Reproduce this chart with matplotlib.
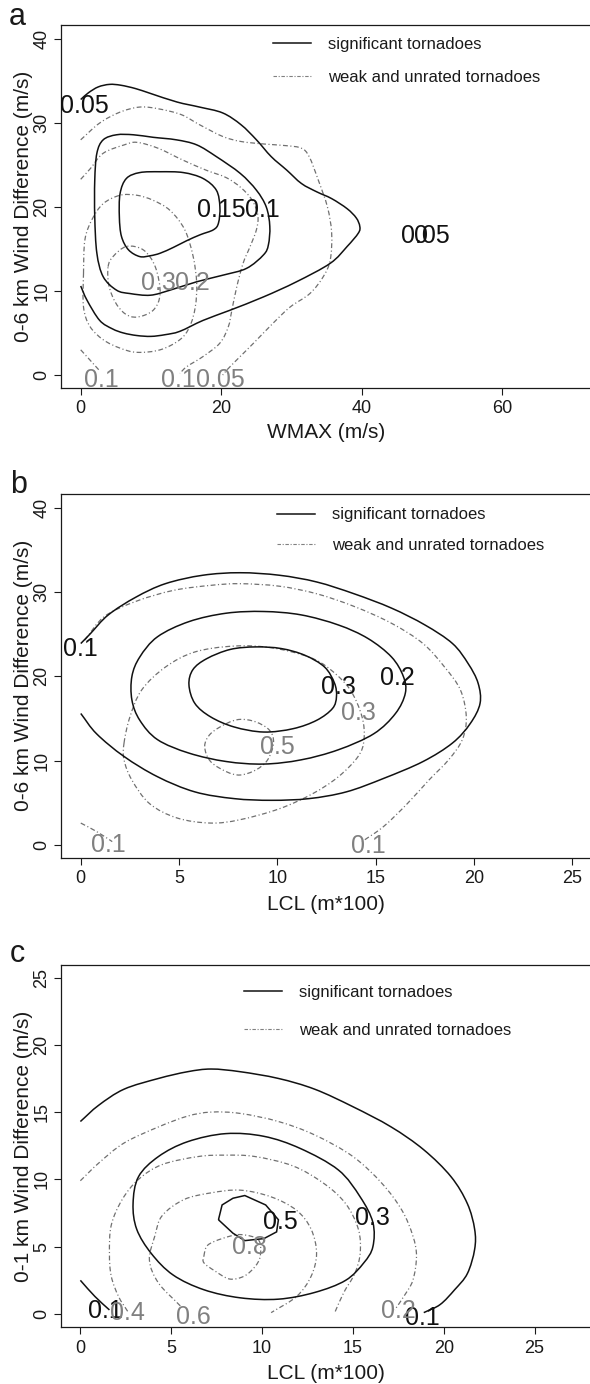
import numpy as np
import matplotlib
matplotlib.use('Agg')
import matplotlib.pyplot as plt
from matplotlib.path import Path
from matplotlib.patches import PathPatch
from matplotlib.lines import Line2D

plt.rcParams['font.family'] = ['Liberation Sans', 'DejaVu Sans']
plt.rcParams['lines.scale_dashes'] = False

SIG_COLOR = '#111111'
WEAK_COLOR = '#707070'
WEAK_LABEL_COLOR = '#808080'
DASHDOT = (0, (3.5, 1.8, 0.8, 1.8))

LEGEND_LABELS = ['significant tornadoes', 'weak and unrated tornadoes']

# ---- panel a: WMAX vs 0-6 km wind difference (contour paths)
a_sig_005 = [(0.0, 10.6), (0.9, 8.9), (2.7, 6.5), (4.5, 5.5), (6.1, 5.0), (8.0, 4.7),
             (10.0, 4.6), (12.0, 4.8), (14.1, 5.2), (17.4, 6.5), (21.2, 7.7), (26.0, 9.3),
             (30.7, 11.1), (35.5, 13.3), (37.9, 15.3), (39.5, 16.9), (39.7, 17.7),
             (39.2, 18.7), (37.9, 19.8), (35.7, 21.0), (33.6, 21.8), (31.4, 22.8),
             (29.3, 24.4), (27.1, 26.0), (25.0, 28.0), (22.8, 29.8), (20.2, 31.2),
             (16.9, 31.9), (13.7, 32.5), (10.0, 33.5), (7.8, 34.1), (5.7, 34.5),
             (4.1, 34.6), (2.5, 34.3), (1.1, 33.6), (0.0, 32.8)]
a_sig_010 = [(2.3, 26.4), (3.2, 28.0), (5.1, 28.6), (7.5, 28.6), (10.3, 28.3), (13.6, 28.0),
             (16.5, 27.4), (19.3, 26.0), (22.7, 24.0), (25.0, 22.0), (26.4, 20.0),
             (26.9, 17.7), (26.7, 15.5), (26.0, 14.3), (23.6, 12.7), (20.3, 11.9),
             (16.5, 11.1), (12.7, 10.1), (9.9, 9.5), (7.0, 9.7), (5.1, 10.1), (3.2, 11.7),
             (2.3, 14.5), (2.0, 18.8), (2.0, 23.2)]
a_sig_015 = [(5.6, 21.6), (6.5, 23.4), (8.4, 24.1), (11.3, 24.2), (14.6, 24.1), (17.4, 23.4),
             (19.3, 22.0), (19.8, 20.0), (19.6, 18.1), (18.9, 17.3), (17.0, 16.7),
             (15.1, 16.0), (13.2, 15.2), (11.3, 14.5), (9.9, 14.2), (8.4, 14.1),
             (6.8, 14.9), (5.8, 16.5), (5.5, 18.8)]
a_weak_005 = [(0.0, 28.0), (2.7, 30.0), (5.6, 31.3), (8.4, 31.9), (11.0, 31.7), (14.3, 31.0),
              (16.9, 29.8), (20.2, 28.4), (22.8, 27.8), (26.1, 27.5), (29.3, 27.3),
              (31.4, 27.0), (32.5, 26.0), (33.8, 23.2), (35.1, 20.0), (35.7, 16.9),
              (35.5, 13.7), (34.5, 11.7), (32.6, 9.7), (29.8, 8.1), (27.4, 6.2),
              (24.6, 3.8), (22.2, 1.8), (20.8, 0.6), (20.2, 0.0)]
a_weak_010 = [(0.0, 23.3), (1.4, 24.6), (3.2, 26.4), (6.2, 27.4), (8.0, 27.7), (11.0, 27.0),
              (14.5, 25.6), (17.8, 24.4), (20.7, 23.5), (22.8, 22.3), (24.4, 20.8),
              (25.2, 19.0), (25.0, 17.3), (24.1, 15.3), (23.1, 13.3), (22.2, 10.5),
              (21.5, 7.7), (21.0, 5.75), (19.8, 3.8), (17.4, 2.2), (15.1, 1.0), (14.1, 0.2)]
a_weak_010b = [(0.0, 3.0), (1.3, 1.8), (2.7, 0.5)]
a_weak_020 = [(0.4, 12.1), (0.6, 16.1), (1.6, 18.5), (3.2, 20.4), (5.6, 21.4), (8.0, 21.4),
              (10.3, 20.8), (12.7, 19.6), (14.8, 17.3), (16.0, 14.1), (16.5, 10.9),
              (16.3, 8.1), (15.5, 5.75), (14.1, 4.2), (11.3, 3.0), (8.0, 2.7), (5.6, 3.2),
              (3.2, 4.2), (1.3, 5.8), (0.4, 8.1)]
a_weak_030 = [(3.9, 12.9), (4.6, 14.1), (6.5, 15.3), (8.9, 14.9), (10.6, 12.9), (11.3, 9.7),
              (10.3, 7.7), (8.0, 6.9), (6.3, 7.3), (4.9, 8.7), (4.0, 10.7)]
a_sig_labels = [('0.05', 0.5, 32.0), ('0.15', 20.0, 19.6), ('0.1', 25.9, 19.6),
                ('0.05', 49.0, 16.5), ('0', 48.4, 16.5)]
a_weak_labels = [('0.3', 11.0, 10.9), ('0.2', 15.9, 10.9), ('0.1', 3.0, -0.6),
                 ('0.1', 13.9, -0.6), ('0.05', 19.8, -0.6)]

# ---- panel b: LCL vs 0-6 km wind difference
b_sig_01 = [(0.0, 15.6), (0.8, 13.2), (2.2, 10.5), (3.9, 8.1), (5.8, 6.3), (7.8, 5.5),
            (9.7, 5.3), (11.6, 5.5), (13.5, 6.3), (15.4, 7.9), (17.4, 9.9), (18.9, 12.1),
            (19.8, 14.4), (20.3, 16.8), (20.2, 19.2), (19.7, 21.5), (18.9, 23.9),
            (17.5, 26.1), (15.8, 28.1), (13.9, 29.8), (12.0, 31.2), (10.1, 32.0),
            (8.1, 32.3), (6.2, 32.0), (4.3, 31.0), (2.8, 29.4), (1.4, 27.3), (0.5, 25.1),
            (0.0, 23.9)]
b_sig_02 = [(2.6, 20.0), (3.0, 22.3), (3.9, 24.7), (5.5, 26.5), (7.4, 27.5), (9.3, 27.7),
            (11.2, 27.3), (13.1, 26.1), (14.6, 24.5), (15.8, 22.3), (16.4, 20.0),
            (16.5, 18.0), (16.0, 15.6), (14.9, 13.2), (13.1, 11.3), (11.2, 10.1),
            (9.3, 9.6), (7.4, 9.9), (5.5, 10.9), (3.9, 12.5), (3.0, 14.8), (2.6, 17.2)]
b_sig_03 = [(5.5, 19.0), (5.7, 20.8), (6.4, 22.1), (7.6, 23.2), (8.9, 23.5), (10.2, 23.3),
            (11.4, 22.5), (12.4, 21.1), (12.9, 19.2), (13.0, 17.6), (12.8, 16.2),
            (12.0, 14.8), (10.8, 13.8), (9.3, 13.4), (7.8, 14.0), (6.6, 15.2), (5.8, 16.8)]
b_weak_01 = [(0.2, 24.3), (1.2, 27.1), (2.8, 28.9), (4.7, 30.2), (6.6, 30.8), (8.1, 31.0),
             (10.1, 30.7), (12.0, 29.8), (13.9, 28.3), (15.8, 26.3), (17.4, 23.9),
             (18.5, 21.1), (19.3, 18.4), (19.6, 15.2), (19.4, 12.5), (18.7, 10.1),
             (17.7, 7.7), (16.6, 4.9), (15.4, 2.2), (14.3, 0.4)]
b_weak_01b = [(0.0, 2.6), (0.8, 1.6), (1.6, 0.4)]
b_weak_03 = [(2.2, 12.1), (2.5, 15.2), (3.1, 18.4), (4.3, 21.1), (5.8, 22.9), (7.8, 23.6),
             (9.7, 23.4), (11.6, 22.3), (12.7, 20.8), (13.7, 18.4), (14.3, 15.2),
             (14.4, 12.5), (14.1, 10.5), (13.1, 8.1), (11.8, 6.1), (10.1, 4.3), (8.1, 3.0),
             (6.6, 2.6), (4.9, 3.2), (3.5, 4.9), (2.6, 7.7), (2.2, 10.1)]
b_weak_05 = [(6.3, 11.7), (6.6, 13.2), (7.4, 14.4), (8.1, 14.9), (8.9, 14.6), (9.6, 13.6),
             (9.8, 12.1), (9.5, 10.1), (8.9, 8.9), (8.1, 8.3), (7.4, 8.7), (6.6, 9.9)]
b_sig_labels = [('0.1', 0.0, 23.3), ('0.3', 13.1, 18.8), ('0.2', 16.1, 19.8)]
b_weak_labels = [('0.3', 14.1, 15.7), ('0.5', 10.0, 11.6), ('0.1', 1.4, 0.0),
                 ('0.1', 14.6, -0.1)]

# ---- panel c: LCL vs 0-1 km wind difference
c_sig_01 = [(0.0, 14.3), (1.0, 15.5), (2.4, 16.7), (4.3, 17.5), (5.9, 18.0), (7.2, 18.2),
            (8.8, 18.0), (10.9, 17.5), (12.9, 16.7), (15.0, 15.4), (17.1, 13.9),
            (18.9, 12.2), (20.4, 10.2), (21.3, 8.2), (21.7, 6.3), (21.7, 4.8), (21.3, 3.0),
            (20.6, 1.8), (19.8, 0.7), (18.9, 0.1)]
c_sig_01b = [(0.0, 2.5), (0.8, 1.3), (1.6, 0.3)]
c_sig_03 = [(2.9, 8.2), (3.2, 10.2), (4.3, 11.7), (5.9, 12.8), (8.0, 13.4), (10.1, 13.2),
            (12.1, 12.3), (14.2, 10.7), (15.4, 8.7), (16.1, 6.8), (16.1, 5.0), (15.6, 3.8),
            (14.6, 2.5), (12.9, 1.6), (10.9, 1.1), (8.8, 1.2), (6.8, 1.8), (5.1, 2.9),
            (3.9, 4.5), (3.1, 6.3)]
c_sig_05 = [(7.6, 7.0), (7.8, 8.1), (8.4, 8.6), (9.05, 8.8), (10.2, 8.1), (10.9, 7.0),
            (10.8, 6.1), (10.1, 5.6), (9.05, 5.45), (8.4, 6.0), (7.6, 7.0)]
c_weak_02 = [(0.0, 9.9), (1.0, 11.2), (2.4, 12.7), (4.3, 13.9), (5.9, 14.7), (7.2, 15.0),
             (8.8, 14.9), (10.9, 14.3), (12.9, 13.3), (15.0, 11.7), (16.6, 9.7),
             (17.7, 7.7), (18.3, 5.8), (18.5, 4.3), (18.3, 2.5), (17.8, 1.3), (17.3, 0.3)]
c_weak_04 = [(2.6, 0.2), (2.1, 1.3), (1.7, 2.8), (1.6, 4.5), (1.7, 6.6), (2.3, 8.5),
             (3.2, 10.0), (4.5, 11.1), (6.5, 11.7), (8.0, 11.8), (9.6, 11.7), (11.7, 11.0),
             (13.4, 9.7), (14.6, 8.2), (15.3, 6.3), (15.4, 4.5), (15.1, 3.0), (14.5, 1.6),
             (14.0, 0.1)]
c_weak_06 = [(5.5, 0.6), (4.3, 2.3), (3.8, 4.0), (4.1, 5.8), (4.5, 7.3), (5.7, 8.5),
             (7.2, 9.0), (8.8, 9.2), (10.5, 8.7), (11.9, 7.7), (12.7, 6.3), (13.0, 4.5),
             (12.7, 2.8), (11.9, 1.3), (10.5, 0.1)]
c_weak_08 = [(6.8, 4.3), (7.0, 5.1), (7.8, 5.6), (8.8, 5.9), (9.8, 5.5), (9.9, 4.3),
             (9.6, 3.5), (9.0, 2.8), (8.2, 2.6), (7.4, 3.2), (6.8, 3.8)]
c_sig_labels = [('0.1', 1.4, 0.2), ('0.1', 18.8, -0.3), ('0.3', 16.1, 7.1), ('0.5', 11.0, 6.8)]
c_weak_labels = [('0.4', 2.6, 0.1), ('0.6', 6.2, -0.2), ('0.8', 9.3, 5.0), ('0.2', 17.5, 0.2)]


def smooth_path(points, closed=False):
    """Catmull-Rom curve through the points, as a bezier Path."""
    p = np.asarray(points, dtype=float)
    n = len(p)
    if closed:
        ext = np.vstack([p[-1], p, p[0], p[1]])
        segs = n
    else:
        ext = np.vstack([2 * p[0] - p[1], p, 2 * p[-1] - p[-2]])
        segs = n - 1
    verts = [ext[1]]
    codes = [Path.MOVETO]
    for i in range(segs):
        p0, p1, p2, p3 = ext[i], ext[i + 1], ext[i + 2], ext[i + 3]
        verts += [p1 + (p2 - p0) / 6.0, p2 - (p3 - p1) / 6.0, p2]
        codes += [Path.CURVE4] * 3
    return Path(verts, codes)


def draw_contour(ax, points, closed, weak=False, smooth=True):
    if weak:
        style = dict(edgecolor=WEAK_COLOR, linewidth=0.9, linestyle=DASHDOT)
    else:
        style = dict(edgecolor=SIG_COLOR, linewidth=1.1, linestyle='-')
    if smooth:
        path = smooth_path(points, closed)
    else:
        path = Path(np.asarray(points, dtype=float))
    ax.add_patch(PathPatch(path, fill=False, **style))


def draw_labels(ax, labels, color):
    for text, x, y in labels:
        ax.text(x, y, text, ha='center', va='center', fontsize=18,
                color=color, clip_on=False, zorder=5)


def setup_axes(rect, xlim, ylim, xticks, yticks, xlabel, ylabel,
               legend_pos, legend_spacing, xlabel_y):
    ax = fig.add_axes(rect)
    ax.set_xlim(*xlim)
    ax.set_ylim(*ylim)
    ax.set_xticks(xticks)
    ax.set_yticks(yticks)
    ax.spines['right'].set_visible(False)
    for side in ['left', 'top', 'bottom']:
        ax.spines[side].set_linewidth(0.9)
        ax.spines[side].set_color('#1a1a1a')
    ax.tick_params(direction='out', length=5.3, width=0.8, labelsize=13,
                   colors='#1a1a1a')
    ax.tick_params(axis='x', pad=3.5)
    ax.tick_params(axis='y', pad=2.5, labelrotation=90)
    for lab in ax.get_yticklabels():
        lab.set_va('center')
    ax.set_xlabel(xlabel, fontsize=15, color='#1a1a1a', va='top')
    ax.xaxis.set_label_coords(0.5, xlabel_y)
    ax.set_ylabel(ylabel, fontsize=15, color='#1a1a1a')
    ax.yaxis.set_label_coords(-0.054, 0.5)

    handles = [Line2D([], [], color=SIG_COLOR, lw=1.1),
               Line2D([], [], color='#808080', lw=0.8, linestyle=(0, (2.5, 1.2, 0.8, 1.2)))]
    ax.legend(handles, LEGEND_LABELS, loc='upper left', bbox_to_anchor=legend_pos,
              frameon=False, fontsize=12, handlelength=2.24, handletextpad=1.05,
              labelspacing=legend_spacing, borderpad=0, borderaxespad=0,
              labelcolor='#1a1a1a')
    return ax


fig = plt.figure(figsize=(5.9, 13.84), dpi=100)

left = 61.3 / 590
width = 1 - left

# panel a
ax_a = setup_axes([left, 0.71987, width, 0.26207], (-2.76, 72.45), (-1.51, 41.67),
                  [0, 20, 40, 60], [0, 10, 20, 30, 40],
                  'WMAX (m/s)', '0-6 km Wind Difference (m/s)',
                  (0.401, 0.966), 1.04, -0.0965)
for pts, closed in [(a_weak_005, False), (a_weak_010, False), (a_weak_010b, False),
                    (a_weak_020, True), (a_weak_030, True)]:
    draw_contour(ax_a, pts, closed, weak=True)
for pts, closed in [(a_sig_005, False), (a_sig_010, True), (a_sig_015, True)]:
    draw_contour(ax_a, pts, closed)
draw_labels(ax_a, a_weak_labels, WEAK_LABEL_COLOR)
draw_labels(ax_a, a_sig_labels, SIG_COLOR)

# panel b
ax_b = setup_axes([left, 0.38027, width, 0.26279], (-0.99, 25.89), (-1.51, 41.64),
                  [0, 5, 10, 15, 20, 25], [0, 10, 20, 30, 40],
                  'LCL (m*100)', '0-6 km Wind Difference (m/s)',
                  (0.4086, 0.9632), 0.92, -0.1023)
for pts, closed in [(b_weak_01, False), (b_weak_01b, False), (b_weak_03, True),
                    (b_weak_05, True)]:
    draw_contour(ax_b, pts, closed, weak=True)
for pts, closed in [(b_sig_01, False), (b_sig_02, True), (b_sig_03, True)]:
    draw_contour(ax_b, pts, closed)
draw_labels(ax_b, b_weak_labels, WEAK_LABEL_COLOR)
draw_labels(ax_b, b_sig_labels, SIG_COLOR)

# panel c
ax_c = setup_axes([left, 0.04097, width, 0.26178], (-1.05, 28.05), (-0.99, 25.93),
                  [0, 5, 10, 15, 20, 25], [0, 5, 10, 15, 20, 25],
                  'LCL (m*100)', '0-1 km Wind Difference (m/s)',
                  (0.3461, 0.9442), 1.36, -0.1021)
for pts, closed in [(c_weak_02, False), (c_weak_04, False), (c_weak_06, False),
                    (c_weak_08, True)]:
    draw_contour(ax_c, pts, closed, weak=True)
for pts, closed in [(c_sig_01, False), (c_sig_01b, False), (c_sig_03, True)]:
    draw_contour(ax_c, pts, closed)
draw_contour(ax_c, c_sig_05, False, smooth=False)
draw_labels(ax_c, c_sig_labels, SIG_COLOR)
draw_labels(ax_c, c_weak_labels, WEAK_LABEL_COLOR)

# panel letters
for letter, x_px, y_px in [('a', 8.3, 25.0), ('b', 10.0, 493.3), ('c', 10.0, 961.7)]:
    fig.text(x_px / 590, 1 - y_px / 1384, letter, fontsize=22, ha='left',
             va='baseline', color='#1a1a1a')

fig.savefig('out.png', dpi=100)
